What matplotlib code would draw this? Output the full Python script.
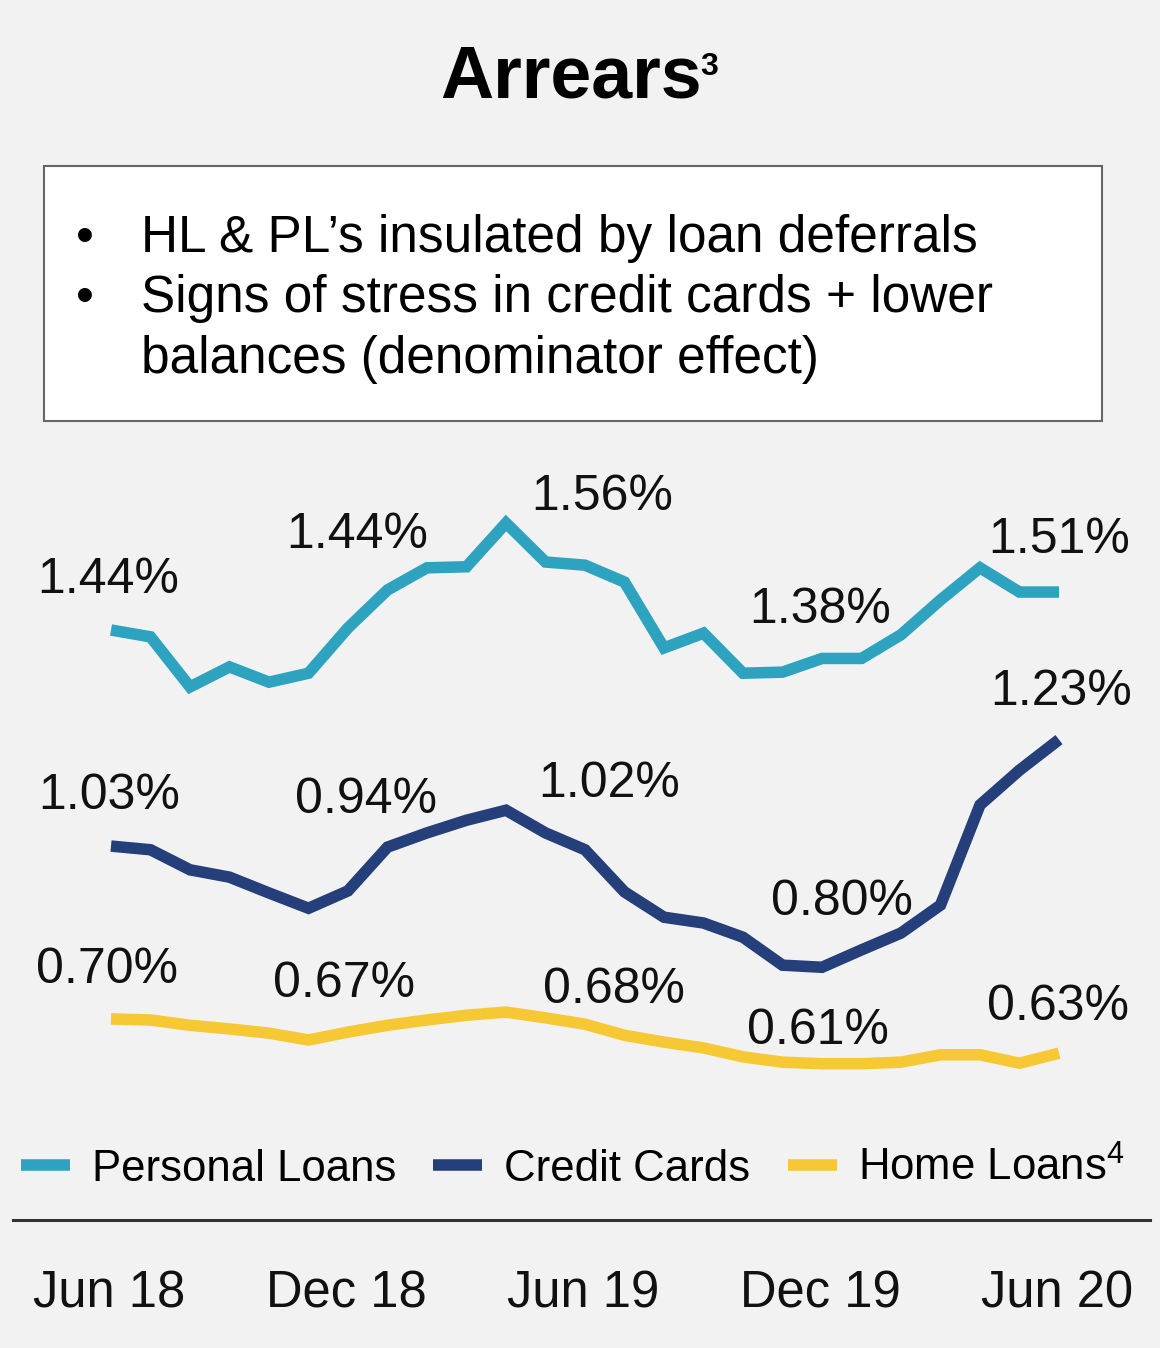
import matplotlib
matplotlib.use("Agg")
import matplotlib.pyplot as plt
from matplotlib.transforms import blended_transform_factory
from matplotlib.patches import Rectangle

# data, monthly Jun 18 -> Jun 20 (% in arrears)
months = list(range(25))
personal_loans = [1.440, 1.427, 1.332, 1.370, 1.341, 1.358, 1.444, 1.516, 1.558, 1.560,
                  1.643, 1.569, 1.563, 1.531, 1.406, 1.434, 1.358, 1.360, 1.386, 1.386,
                  1.431, 1.497, 1.558, 1.512, 1.512]
credit_cards = [1.030, 1.023, 0.985, 0.971, 0.941, 0.912, 0.945, 1.028, 1.055, 1.079,
                1.098, 1.055, 1.023, 0.943, 0.895, 0.884, 0.857, 0.804, 0.800, 0.833,
                0.865, 0.918, 1.108, 1.174, 1.232]
home_loans = [0.702, 0.700, 0.690, 0.683, 0.675, 0.662, 0.677, 0.690, 0.700, 0.709,
              0.715, 0.704, 0.692, 0.671, 0.658, 0.647, 0.630, 0.620, 0.617, 0.617,
              0.620, 0.634, 0.634, 0.618, 0.637]

label_idx = [0, 6, 12, 18, 24]
pl_labels = ["1.44%", "1.44%", "1.56%", "1.38%", "1.51%"]
cc_labels = ["1.03%", "0.94%", "1.02%", "0.80%", "1.23%"]
hl_labels = ["0.70%", "0.67%", "0.68%", "0.61%", "0.63%"]
tick_labels = ["Jun 18", "Dec 18", "Jun 19", "Dec 19", "Jun 20"]

bullets = ["HL & PL\u2019s insulated by loan deferrals",
           "Signs of stress in credit cards + lower",
           "balances (denominator effect)"]

#colours
BG = "#f2f2f2"
TEAL = "#2ea3bf"
NAVY = "#243f7a"
YELLOW = "#f6c833"

plt.rcParams['font.family'] = ['Liberation Sans', 'DejaVu Sans']
plt.rcParams['mathtext.fontset'] = 'custom'
plt.rcParams['mathtext.rm'] = 'Liberation Sans'
plt.rcParams['mathtext.it'] = 'Liberation Sans'

W, H = 1160, 1348
fig = plt.figure(figsize=(W / 100, H / 100), dpi=100, facecolor=BG)

def fy(py):  # pixel from top -> figure fraction
    return 1 - py / H

# title
fig.text(440 / W, fy(97), "Arrears", fontsize=53, fontweight='bold', ha='left', va='baseline')
fig.text(700 / W, fy(75), "3", fontsize=23, fontweight='bold', ha='left', va='baseline')

# text box
fig.patches.append(Rectangle((44 / W, fy(421)), (1102 - 44) / W, (421 - 166) / H,
                             transform=fig.transFigure, facecolor='white',
                             edgecolor='#666666', linewidth=1.5))
for i, (txt, base) in enumerate(zip(bullets, [252, 312, 373])):
    if i < 2:
        fig.text(85 / W, fy(base), "\u2022", fontsize=37, ha='center', va='baseline')
    fig.text(141 / W, fy(base), txt, fontsize=37, ha='left', va='baseline')

# main axes: 0..1160 px wide, 440..1220 px tall
ax = fig.add_axes([0, fy(1220), 1, 780 / H])
ax.set_facecolor('none')
ax.set_xlim(-111 / 39.5, (W - 111) / 39.5)
ax.set_ylim(1.44 - (1220 - 630) / 527, 1.44 + (630 - 440) / 527)

lw = 8.3
ax.plot(months, personal_loans, color=TEAL, lw=lw, solid_joinstyle='miter',
        solid_capstyle='butt', label="Personal Loans")
ax.plot(months, credit_cards, color=NAVY, lw=lw, solid_joinstyle='miter',
        solid_capstyle='butt', label="Credit Cards")
ax.plot(months, home_loans, color=YELLOW, lw=lw, solid_joinstyle='miter',
        solid_capstyle='butt', label="Home Loans$^{4}$")

# label offsets (pixels: dx, baseline above point)
pl_off = [(-3, 37), (9, 80), (17, 55), (-2, 35), (0, 39)]
cc_off = [(-2, 37), (18, 78), (24, 53), (20, 52), (2, 35)]
hl_off = [(-4, 36), (-4, 35), (29, 21), (-4, 20), (-1, 33)]

for series, labels, offs in [(personal_loans, pl_labels, pl_off),
                             (credit_cards, cc_labels, cc_off),
                             (home_loans, hl_labels, hl_off)]:
    for i, lab, (dx, dy) in zip(label_idx, labels, offs):
        ax.annotate(lab, (months[i], series[i]), xytext=(dx, dy),
                    textcoords='offset pixels', fontsize=36, ha='center',
                    va='baseline', color='#111111')

# legend
ax.legend(loc='center left', bbox_to_anchor=(21 / W, fy(1168)),
          bbox_transform=fig.transFigure, ncol=3, frameon=False, fontsize=31.5,
          handlelength=1.12, handletextpad=0.5, columnspacing=0.85,
          borderpad=0, borderaxespad=0)

# axis line + tick labels
for s in ['top', 'left', 'right']:
    ax.spines[s].set_visible(False)
ax.spines['bottom'].set_color('#333333')
ax.spines['bottom'].set_linewidth(2.2)
ax.spines['bottom'].set_bounds((13 - 111) / 39.5, (1150 - 111) / 39.5)
ax.set_yticks([])
ax.set_xticks([])
tr = blended_transform_factory(ax.transData, fig.transFigure)
for i, lab in zip(label_idx, tick_labels):
    ax.text(months[i] - 0.05, fy(1308), lab, transform=tr, fontsize=36.5,
            ha='center', va='baseline', color='#111111')

fig.savefig("out.png", dpi=100, facecolor=BG)
